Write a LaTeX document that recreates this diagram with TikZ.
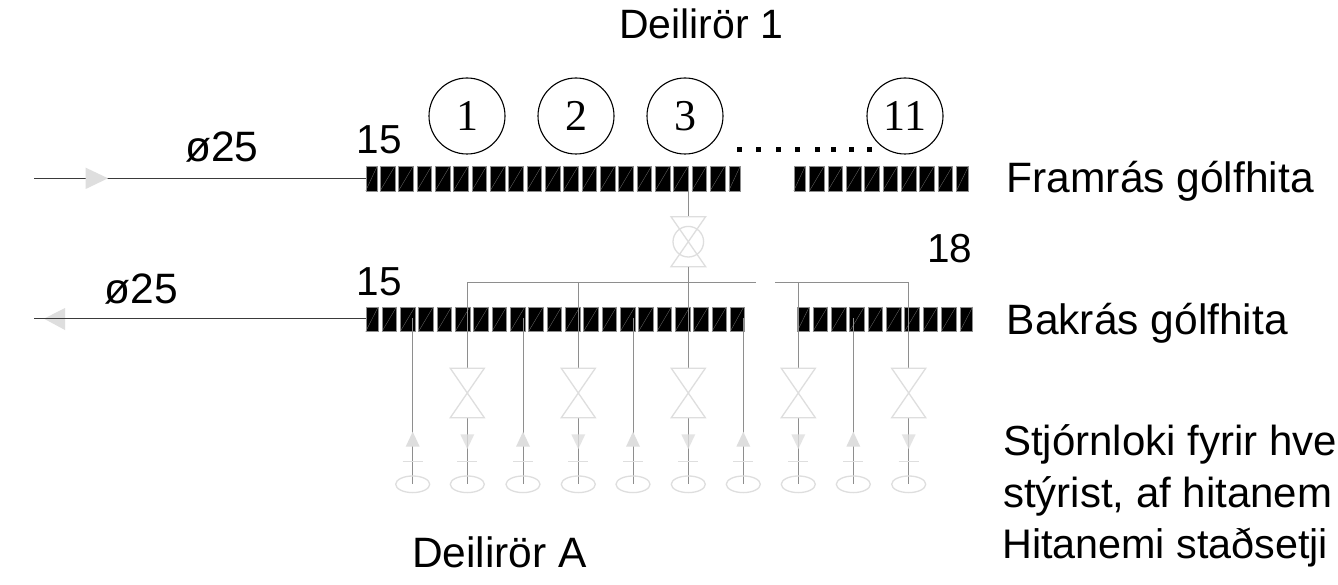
\documentclass[tikz,border=0pt]{standalone}
\usepackage{fontspec}
\usetikzlibrary{shapes.geometric}
\setmainfont{Liberation Sans}
\newfontfamily\serifnum{Liberation Serif}
\definecolor{pale}{HTML}{DEDEDE}
\definecolor{midg}{HTML}{8E8E8E}
\definecolor{pipeg}{HTML}{3A3A3A}
\tikzset{
  x=1pt,y=-1pt,
  lbl/.style={inner sep=0pt,anchor=base west,font=\fontsize{42.5}{50}\selectfont,text=black},
  lbln/.style={lbl,font=\fontsize{40.5}{48}\selectfont},
  blk/.style={draw=midg,line width=0.4pt,fill=black,inner sep=0pt,anchor=north west,minimum height=24.6pt,
    path picture={\draw[black!55!white,line width=0.3pt] (path picture bounding box.south west) -- (path picture bounding box.north east);}},
  num/.style={draw=black,circle,line width=1.1pt,minimum size=76pt,inner sep=0pt,font=\serifnum\fontsize{44}{50}\selectfont},
  pipe/.style={draw=pipeg,line width=1.2pt},
  thin pipe/.style={draw=midg,line width=1pt},
  pale line/.style={draw=pale,line width=1.3pt},
  pale fill/.style={fill=pale,draw=none},
  pale tip/.style={fill=pale,draw=none,fill opacity=0.8},
  dotm/.style={fill=black,draw=none,minimum size=5pt,inner sep=0pt},
}
\begin{document}
\begin{tikzpicture}
\useasboundingbox (0,0) rectangle (1338,585);
\clip (0,0) rectangle (1338,585);
\fill[white] (0,0) rectangle (1338,585);

% labels
\node[lbl,font=\fontsize{41}{48}\selectfont] (title) at (619,39) {Deilirör 1};
\node[lbln] (t15a) at (356.5,154) {15};
\node[lbln] (t15b) at (356.5,295) {15};
\node[lbl] (d25a) at (185,162) {ø25};
\node[lbl] (d25b) at (104.5,303) {ø25};
\node[lbln] (t18) at (927,263) {18};
\node[lbl] (fram) at (1006.5,193) {Framrás gólfhita};
\node[lbl] (bak) at (1006.5,334) {Bakrás gólfhita};
\node[lbl] (deilA) at (412,567) {Deilirör A};
\node[lbl,font=\fontsize{42}{50}\selectfont] (st1) at (1003,455) {Stjórnloki fyrir hve};
\node[lbl,font=\fontsize{42}{50}\selectfont] (st2) at (1003,507) {stýrist, af hitanem};
\node[lbl,font=\fontsize{41.3}{50}\selectfont] (st3) at (1002,558) {Hitanemi staðsetji};

% circles
\node[num] (c1) at (467,116) {1};
\node[num] (c2) at (576,116) {2};
\node[num] (c3) at (685,116) {3};
\node[num] (c11) at (905,116) {11};

% dots
\foreach \i/\x in {1/739.5,2/758.5,3/778.5,4/797.5,5/817.5,6/833.5,7/851.5,8/869.5}
  \node[dotm] (dot\i) at (\x,150) {};

% manifolds: top
\node[blk,minimum width=11.5pt] (ta0) at (365.5,166) {};
\foreach \k in {1,...,19}
  \node[blk,minimum width=14.6pt] (ta\k) at ({380+18.33*(\k-1)},166) {};
\node[blk,minimum width=11.5pt] (ta20) at (728.5,166) {};
\node[blk,minimum width=11.5pt] (tb0) at (793.5,166) {};
\foreach \k in {1,...,8}
  \node[blk,minimum width=14.6pt] (tb\k) at ({809.3+18.33*(\k-1)},166) {};
\node[blk,minimum width=12pt] (tb9) at (956.3,166) {};
% manifolds: bottom
\node[blk,minimum width=12.5pt] (ba0) at (365.5,306.7) {};
\foreach \k in {1,...,19}
  \node[blk,minimum width=14.6pt] (ba\k) at ({381.7+18.33*(\k-1)},306.7) {};
\node[blk,minimum width=13.5pt] (ba20) at (730,306.7) {};
\node[blk,minimum width=12pt] (bb0) at (797,306.7) {};
\foreach \k in {1,...,8}
  \node[blk,minimum width=14.6pt] (bb\k) at ({812.7+18.33*(\k-1)},306.7) {};
\node[blk,minimum width=12.7pt] (bb9) at (959.7,306.7) {};

% main pipes
\coordinate (inL) at (34,178.3);
\coordinate (inR) at (365.5,178.3);
\coordinate (outL) at (34,318.7);
\coordinate (outR) at (365.5,318.7);
\draw[pipe] (inL) -- (inR);
\fill[pale fill] (85.7,167.7) -- (108,178.3) -- (85.7,189) -- cycle;
\fill[pale fill] (44,318.7) -- (65,308) -- (65,330) -- cycle;
\draw[pipe,line width=1.5pt] (outL) -- (outR);

% central valve
\coordinate (cvt) at (688.3,216.7);
\coordinate (cvb) at (688.3,266.7);
\coordinate (cvs) at (688.3,190.6);
\draw[thin pipe] (cvs) -- (cvt);
\draw[pale line] (671,216.7) -- (705.6,216.7) -- (671,266.7) -- (705.6,266.7) -- cycle;
\node[draw=pale,line width=1.3pt,circle,minimum size=30.6pt,inner sep=0pt] (cvc) at (688.3,241.7) {};

% header
\coordinate (h1) at (467.3,283);
\coordinate (h2) at (756,283);
\coordinate (h3) at (775.3,283);
\coordinate (h4) at (908.7,283);
\draw[thin pipe] (h1) -- (h2);
\draw[thin pipe] (h3) -- (h4);

% supply branches with valves
\foreach \i/\x in {1/467.3,2/578.3,3/688.3,4/798.3,5/908.7}{
  \coordinate (vt\i) at (\x,368.3);
  \coordinate (vb\i) at (\x,417.7);
  \coordinate (hs\i) at (\x,283);
  \coordinate (el\i) at (\x,484.3);
  \draw[thin pipe] (hs\i) -- (vt\i);
  \draw[thin pipe] (vb\i) -- (el\i);
  \draw[pale line] (\x-17,368.3) -- (\x+17,368.3) -- (\x-17,417.7) -- (\x+17,417.7) -- cycle;
  \fill[pale tip] (\x-7,434.3) -- (\x+7,434.3) -- (\x,449) -- cycle;
  \draw[pale line] (\x-10,461.7) -- (\x+10,461.7);
  \node[draw=pale,line width=1.3pt,ellipse,minimum width=34pt,minimum height=16.6pt,inner sep=0pt] (e\i) at (el\i) {};
}
\draw[thin pipe] (cvb) -- (hs3);

% return branches
\foreach \i/\x in {1/412.7,2/523,3/633,4/743.3,5/853.3}{
  \coordinate (rt\i) at (\x,318.3);
  \coordinate (re\i) at (\x,484.3);
  \draw[thin pipe] (rt\i) -- (re\i);
  \fill[pale fill] (\x-7,446.7) -- (\x+7,446.7) -- (\x,431.7) -- cycle;
  \draw[pale line] (\x-10,461.7) -- (\x+10,461.7);
  \node[draw=pale,line width=1.3pt,ellipse,minimum width=34pt,minimum height=16.6pt,inner sep=0pt] (r\i) at (re\i) {};
}
\end{tikzpicture}
\end{document}
